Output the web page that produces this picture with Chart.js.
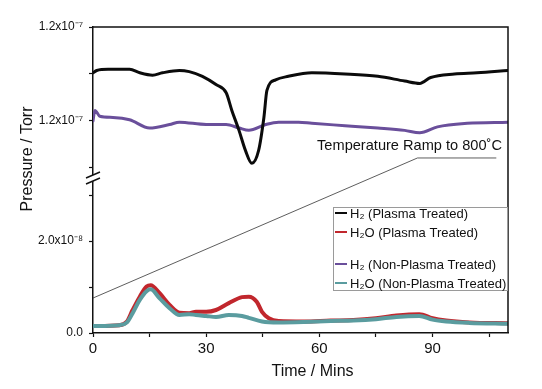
<!DOCTYPE html>
<html>
<head>
<meta charset="utf-8">
<script src="https://cdn.jsdelivr.net/npm/chart.js@4.4.1/dist/chart.umd.min.js"></script>
<style>
html, body { margin: 0; padding: 0; background: #fff; }
#wrap { width: 542px; height: 389px; }
</style>
</head>
<body>
<div id="wrap"><canvas id="grafico"></canvas></div>
<script>
// Tiempos en minutos, presiones en Torr
const tH2Plasma = [0, 1, 4, 7, 9.7, 12.4, 15.8, 18.4, 22.9, 25.5, 29, 32.6, 35.3, 36.8, 38.7, 40.4, 42.1, 43.9, 45.3, 46.1, 48.4, 51.8, 58, 66.8, 75.5, 82.6, 86.6, 89.5, 95.8, 101.8, 110];
const h2Plasma = [120.1e-9, 120.3e-9, 120.4e-9, 120.4e-9, 120.4e-9, 120.1e-9, 119.9e-9, 120.1e-9, 120.3e-9, 120.2e-9, 119.8e-9, 119.1e-9, 118.4e-9, 116.9e-9, 115.2e-9, 113.5e-9, 112.4e-9, 113.5e-9, 116.3e-9, 118.6e-9, 119.5e-9, 119.8e-9, 120.1e-9, 120.0e-9, 119.8e-9, 119.4e-9, 119.2e-9, 119.7e-9, 120.0e-9, 120.1e-9, 120.3e-9];

const tH2NoPlasma = [0, 0.5, 1.8, 5.3, 9.7, 15, 20.3, 22.9, 30, 35.3, 38.7, 41.3, 45.8, 49.2, 54.5, 58, 66.8, 75.5, 82.6, 86.6, 91.3, 99.2, 110];
const h2NoPlasma = [116.0e-9, 116.9e-9, 116.4e-9, 116.3e-9, 116.1e-9, 115.4e-9, 115.7e-9, 115.9e-9, 115.7e-9, 115.7e-9, 115.4e-9, 115.2e-9, 115.7e-9, 115.9e-9, 115.9e-9, 115.8e-9, 115.6e-9, 115.4e-9, 115.2e-9, 115.0e-9, 115.5e-9, 115.8e-9, 115.9e-9];

const tH2OPlasma = [0, 7, 9, 10.5, 12.4, 14.2, 15.3, 17.6, 20.3, 22.9, 25.5, 27.3, 30, 32.6, 36, 39.5, 41.3, 43.4, 44.8, 46.6, 49.2, 56, 63, 69, 75, 80.4, 86.5, 90, 93.6, 99.7, 110];
const h2OPlasma = [1.5e-9, 1.7e-9, 2.5e-9, 5.0e-9, 7.9e-9, 10.1e-9, 10.4e-9, 8.7e-9, 6.1e-9, 4.4e-9, 4.3e-9, 4.6e-9, 4.6e-9, 5.0e-9, 6.5e-9, 7.8e-9, 7.9e-9, 6.8e-9, 4.6e-9, 3.2e-9, 2.6e-9, 2.5e-9, 2.7e-9, 2.8e-9, 3.2e-9, 3.8e-9, 4.1e-9, 3.2e-9, 2.7e-9, 2.3e-9, 2.1e-9];

const tH2ONoPlasma = [0, 7, 9, 10.5, 12.4, 14.2, 15.3, 17.6, 20.3, 22.9, 25.5, 27.3, 30, 32.6, 36, 39.5, 41.3, 44.8, 49.2, 56, 63, 69, 75, 80.4, 86.5, 90, 93.6, 99.7, 110];
const h2ONoPlasma = [1.5e-9, 1.7e-9, 2.3e-9, 4.3e-9, 7.2e-9, 9.1e-9, 9.5e-9, 7.6e-9, 5.4e-9, 3.9e-9, 4.1e-9, 3.9e-9, 3.7e-9, 3.5e-9, 3.9e-9, 3.7e-9, 3.3e-9, 2.5e-9, 2.3e-9, 2.4e-9, 2.6e-9, 2.7e-9, 3.0e-9, 3.5e-9, 3.7e-9, 2.9e-9, 2.5e-9, 2.2e-9, 2.0e-9];

// Ejes
const xTicks = [0, 15, 30, 45, 60, 75, 90, 105];
const xTickLabels = ['0', '', '30', '', '60', '', '90', ''];
const yHighTicks = [112e-9, 116e-9, 120e-9, 124e-9];
const yHighTickLabels = ['', '1.2x10⁻⁷', '', '1.2x10⁻⁷'];
const yLowTicks = [0, 1e-8, 2e-8, 3e-8];
const yLowTickLabels = ['0.0', '', '2.0x10⁻⁸', ''];

// Rampa de temperatura: [min, Torr] inicio, codo y fin
const rampStart = [0, 7.6e-9];
const rampKnee = [86, 112.85e-9];
const rampEnd = [106.9, 112.85e-9];
const rampText = 'Temperature Ramp to 800˚C';

const labels = ['H₂ (Plasma Treated)', 'H₂O (Plasma Treated)', 'H₂ (Non-Plasma Treated)', 'H₂O (Non-Plasma Treated)'];
const colores = ['#0b0b0b', '#c1272d', '#6a4f9b', '#5a9c9f'];

const toPts = (ts, vs) => ts.map((t, i) => ({ x: t, y: vs[i] }));
const FONT = "'Liberation Sans', Arial, sans-serif";

const pickLabel = (ticks, labs) => (v) => {
    const i = ticks.findIndex(t => Math.abs(t - v) < 1e-12);
    return i >= 0 ? labs[i] : '';
};

const extras = {
    id: 'extras',
    afterDraw(chart) {
        const ctx = chart.ctx;
        const a = chart.chartArea;
        const sx = chart.scales.x, yh = chart.scales.yHigh, yl = chart.scales.yLow;
        ctx.save();
        // marco superior y derecho
        ctx.strokeStyle = '#111';
        ctx.lineWidth = 1.5;
        ctx.beginPath();
        ctx.moveTo(a.left, a.top);
        ctx.lineTo(a.right, a.top);
        ctx.lineTo(a.right, a.bottom);
        ctx.stroke();

        // corte del eje
        const yb = yh.bottom - 2;
        ctx.fillStyle = '#fff';
        ctx.beginPath();
        ctx.moveTo(a.left - 7, yb + 1);
        ctx.lineTo(a.left + 7, yb - 5);
        ctx.lineTo(a.left + 7, yb + 1);
        ctx.lineTo(a.left - 7, yb + 7);
        ctx.closePath();
        ctx.fill();
        ctx.strokeStyle = '#111';
        ctx.lineWidth = 1.4;
        ctx.beginPath();
        ctx.moveTo(a.left - 7, yb + 1); ctx.lineTo(a.left + 7, yb - 5);
        ctx.moveTo(a.left - 7, yb + 7); ctx.lineTo(a.left + 7, yb + 1);
        ctx.stroke();

        // rampa de temperatura
        ctx.strokeStyle = '#333';
        ctx.lineWidth = 0.8;
        ctx.beginPath();
        ctx.moveTo(sx.getPixelForValue(rampStart[0]), yl.getPixelForValue(rampStart[1]));
        ctx.lineTo(sx.getPixelForValue(rampKnee[0]), yh.getPixelForValue(rampKnee[1]));
        ctx.lineTo(sx.getPixelForValue(rampEnd[0]), yh.getPixelForValue(rampEnd[1]));
        ctx.stroke();
        ctx.fillStyle = '#111';
        ctx.font = '14.6px ' + FONT;
        ctx.textAlign = 'right';
        ctx.textBaseline = 'middle';
        ctx.fillText(rampText, a.right - 6, yh.getPixelForValue(rampKnee[1]) - 12);

        // leyenda
        const lx = a.right - 175, ly = a.top + 180, lw = 174, lh = 83;
        ctx.fillStyle = '#fff';
        ctx.fillRect(lx, ly, lw, lh);
        ctx.strokeStyle = '#9a9a9a';
        ctx.lineWidth = 1;
        ctx.strokeRect(lx + 0.5, ly + 0.5, lw, lh);
        const filas = [6, 25, 57, 76];
        ctx.font = '13px ' + FONT;
        ctx.textAlign = 'left';
        chart.data.datasets.forEach((ds, i) => {
            const yy = ly + filas[i];
            ctx.strokeStyle = ds.borderColor;
            ctx.lineWidth = 2;
            ctx.beginPath();
            ctx.moveTo(lx + 2, yy);
            ctx.lineTo(lx + 14, yy);
            ctx.stroke();
            ctx.fillStyle = '#111';
            ctx.fillText(ds.label, lx + 17, yy + 1);
        });

        // títulos de ejes
        ctx.fillStyle = '#111';
        ctx.font = '16px ' + FONT;
        ctx.textAlign = 'center';
        ctx.fillText('Time / Mins', (a.left + a.right) / 2 + 12, 372);
        ctx.translate(28, 159);
        ctx.rotate(-Math.PI / 2);
        ctx.fillText('Pressure / Torr', 0, 0);
        ctx.restore();
    }
};

const ejeY = (ticks, labs, min, max, weight) => ({
    type: 'linear',
    position: 'left',
    stack: 'presion',
    stackWeight: weight,
    min: min,
    max: max,
    afterBuildTicks: s => { s.ticks = ticks.map(v => ({ value: v })); },
    afterFit: s => { s.width = 93; },
    border: { display: true, color: '#111', width: 1.5 },
    grid: { drawOnChartArea: false, drawTicks: true, tickLength: 4, tickColor: '#111', tickWidth: 1.2 },
    ticks: { callback: pickLabel(ticks, labs), color: '#111', font: { family: FONT, size: 12 }, padding: 6 }
});

new Chart(document.getElementById('grafico'), {
    type: 'line',
    data: {
        datasets: [
            { label: labels[0], data: toPts(tH2Plasma, h2Plasma), yAxisID: 'yHigh', borderColor: colores[0], borderWidth: 3, order: 1 },
            { label: labels[1], data: toPts(tH2OPlasma, h2OPlasma), yAxisID: 'yLow', borderColor: colores[1], borderWidth: 4, order: 1 },
            { label: labels[2], data: toPts(tH2NoPlasma, h2NoPlasma), yAxisID: 'yHigh', borderColor: colores[2], borderWidth: 3, order: 1 },
            { label: labels[3], data: toPts(tH2ONoPlasma, h2ONoPlasma), yAxisID: 'yLow', borderColor: colores[3], borderWidth: 4, order: 0 }
        ]
    },
    options: {
        responsive: true,
        maintainAspectRatio: false,
        animation: false,
        layout: { padding: { top: 27, right: 34, left: 0, bottom: 0 } },
        elements: { point: { radius: 0 }, line: { cubicInterpolationMode: 'monotone', borderCapStyle: 'round', borderJoinStyle: 'round' } },
        plugins: { legend: { display: false }, tooltip: { enabled: false } },
        scales: {
            x: {
                type: 'linear',
                min: 0,
                max: 110,
                afterBuildTicks: s => { s.ticks = xTicks.map(v => ({ value: v })); },
                afterFit: s => { s.height = 56; },
                border: { display: true, color: '#111', width: 1.5 },
                grid: { drawOnChartArea: false, drawTicks: true, tickLength: 4, tickColor: '#111', tickWidth: 1.2 },
                ticks: { callback: pickLabel(xTicks, xTickLabels), color: '#111', font: { family: FONT, size: 15 }, padding: 3, maxRotation: 0 }
            },
            // el primer eje de la pila queda abajo
            yLow: ejeY(yLowTicks, yLowTickLabels, 0, 3.348e-8, 154),
            yHigh: ejeY(yHighTicks, yHighTickLabels, 111.06e-9, 124e-9, 152)
        }
    },
    plugins: [extras]
});
</script>
</body>
</html>
